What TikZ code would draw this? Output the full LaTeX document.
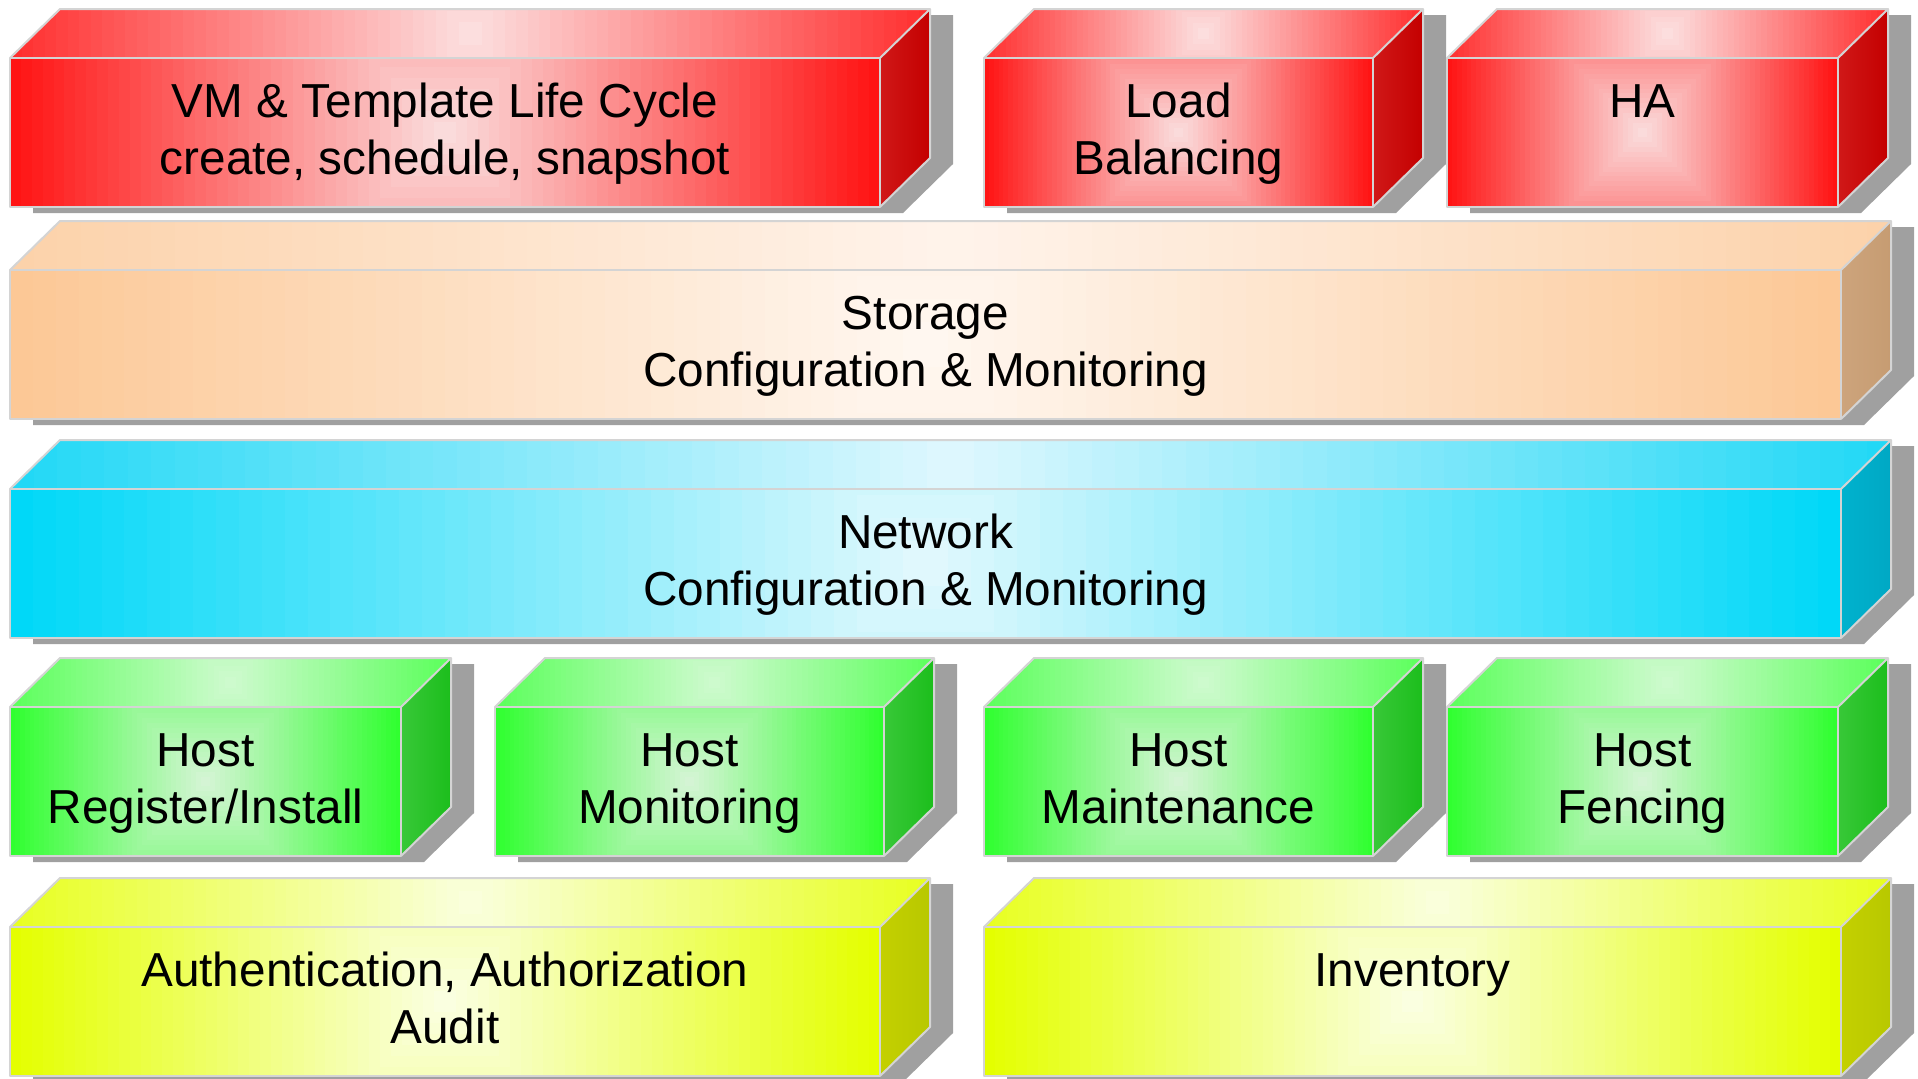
\documentclass[tikz,border=0pt]{standalone}
\usepackage{fontspec}
\setmainfont{Liberation Sans}
\definecolor{bordergrey}{HTML}{D4D4D4}
\definecolor{shadowgrey}{HTML}{A0A0A0}
% red
\definecolor{redFE}{HTML}{FF1414}\definecolor{redFC}{HTML}{FAE0E0}
\definecolor{redTE}{HTML}{FF3030}\definecolor{redTC}{HTML}{FCE2E2}
\definecolor{redS1}{HTML}{D01818}\definecolor{redS2}{HTML}{C40000}
% peach
\definecolor{peaFE}{HTML}{FCC896}\definecolor{peaFC}{HTML}{FFF8F2}
\definecolor{peaTE}{HTML}{FCD2AA}\definecolor{peaTC}{HTML}{FFF4EC}
\definecolor{peaS1}{HTML}{CDA47C}\definecolor{peaS2}{HTML}{C69C72}
% cyan
\definecolor{cyaFE}{HTML}{00D8F8}\definecolor{cyaFC}{HTML}{E6F9FD}
\definecolor{cyaTE}{HTML}{22D8F6}\definecolor{cyaTC}{HTML}{E2F8FE}
\definecolor{cyaS1}{HTML}{00B2CE}\definecolor{cyaS2}{HTML}{00A8C4}
% green
\definecolor{greFE}{HTML}{30FF30}\definecolor{greFC}{HTML}{D8F4D8}
\definecolor{greTE}{HTML}{5CFF5C}\definecolor{greTC}{HTML}{D0FAD0}
\definecolor{greS1}{HTML}{38C838}\definecolor{greS2}{HTML}{1CBE1C}
% yellow
\definecolor{yelFE}{HTML}{E4FF00}\definecolor{yelFC}{HTML}{FBFFE6}
\definecolor{yelTE}{HTML}{E8FF22}\definecolor{yelTC}{HTML}{FAFFE0}
\definecolor{yelS1}{HTML}{C4D000}\definecolor{yelS2}{HTML}{B8C800}
\newcommand\boxfont{\fontsize{23.85pt}{28.6pt}\selectfont}
\tikzset{
  edgeline/.style={draw=bordergrey, line width=1pt, line join=round},
  boxlabel/.style={font=\boxfont, align=center, anchor=north, inner sep=0pt, text=black}
}
% square gradient on a face: #1 clip path, #2 cx, #3 cy, #4 half size, #5 edge colour, #6 centre colour
\newcommand\sqgrad[6]{%
  \begin{scope}
    \clip #1;
    \foreach \sgK in {40,39,...,1}{%
      \pgfmathsetmacro\sgR{\sgK/40*(#4)}%
      \pgfmathsetmacro\sgP{100-2.5*\sgK}%
      \fill[fill=#6!\sgP!#5] ({#2-\sgR},{#3-\sgR}) rectangle ({#2+\sgR},{#3+\sgR});
    }
  \end{scope}}
% cube: #1 name, #2 x left, #3 x right (front), #4 y front top, #5 colour family, #6 text
\newcommand\cubebox[6]{%
  \pgfmathsetmacro\cxa{#2}%
  \pgfmathsetmacro\cxb{#3}%
  \pgfmathsetmacro\cya{#4}%
  \pgfmathsetmacro\cyb{#4+149}%
  \pgfmathsetmacro\cxc{#2+50}%
  \pgfmathsetmacro\cxd{#3+50}%
  \pgfmathsetmacro\cyt{#4-49}%
  \pgfmathsetmacro\cyr{#4+100}%
  \pgfmathsetmacro\cmx{(#2+#3)/2}%
  \pgfmathsetmacro\cmy{#4+74.5}%
  \pgfmathsetmacro\cH{max(#3-#2,149)/2}%
  \pgfmathsetmacro\tmx{(#2+#3+50)/2}%
  \pgfmathsetmacro\tmy{#4-24.5}%
  \pgfmathsetmacro\tH{(#3+50-#2)/2}%
  \fill[shadowgrey] (\cxa+23,\cyb+6) -- (\cxa+23,\cya+6) -- (\cxc+23,\cyt+6) -- (\cxd+23,\cyt+6) -- (\cxd+23,\cyr+6) -- (\cxb+23,\cyb+6) -- cycle;
  \sqgrad{(\cxa,\cya) rectangle (\cxb,\cyb)}{\cmx}{\cmy}{\cH}{#5FE}{#5FC}%
  \sqgrad{(\cxa,\cya) -- (\cxc,\cyt) -- (\cxd,\cyt) -- (\cxb,\cya) -- cycle}{\tmx}{\tmy}{\tH}{#5TE}{#5TC}%
  \shade[left color=#5S1, right color=#5S2] (\cxb,\cya) -- (\cxd,\cyt) -- (\cxd,\cyr) -- (\cxb,\cyb) -- cycle;
  \draw[edgeline] (\cxa,\cya) rectangle (\cxb,\cyb);
  \draw[edgeline] (\cxa,\cya) -- (\cxc,\cyt) -- (\cxd,\cyt) -- (\cxb,\cya);
  \draw[edgeline] (\cxd,\cyt) -- (\cxd,\cyr) -- (\cxb,\cyb);
  \node[boxlabel] (#1) at (\cmx,\cya+20.8) {\rule{0pt}{0.8em}#6};
}
\begin{document}
\begin{tikzpicture}[x=0.5pt, y=-0.5pt]
  \fill[white] (0,0) rectangle (1918,1078);
  \useasboundingbox (0,0) rectangle (1918,1078);
  % row 1
  \cubebox{vm}{10}{880}{58}{red}{VM \& Template Life Cycle\\create, schedule, snapshot}
  \cubebox{lb}{984}{1373}{58}{red}{Load\\Balancing}
  \cubebox{ha}{1447}{1838}{58}{red}{HA}
  % row 2
  \cubebox{storage}{10}{1841}{270}{pea}{Storage\\Configuration \& Monitoring}
  % row 3
  \cubebox{network}{10}{1841}{489}{cya}{Network\\Configuration \& Monitoring}
  % row 4
  \cubebox{hostreg}{10}{401}{707}{gre}{Host\\Register/Install}
  \cubebox{hostmon}{495}{884}{707}{gre}{Host\\Monitoring}
  \cubebox{hostmaint}{984}{1373}{707}{gre}{Host\\Maintenance}
  \cubebox{hostfence}{1447}{1838}{707}{gre}{Host\\Fencing}
  % row 5
  \cubebox{auth}{10}{880}{927}{yel}{Authentication, Authorization\\Audit}
  \cubebox{inventory}{984}{1841}{927}{yel}{Inventory}
\end{tikzpicture}
\end{document}
